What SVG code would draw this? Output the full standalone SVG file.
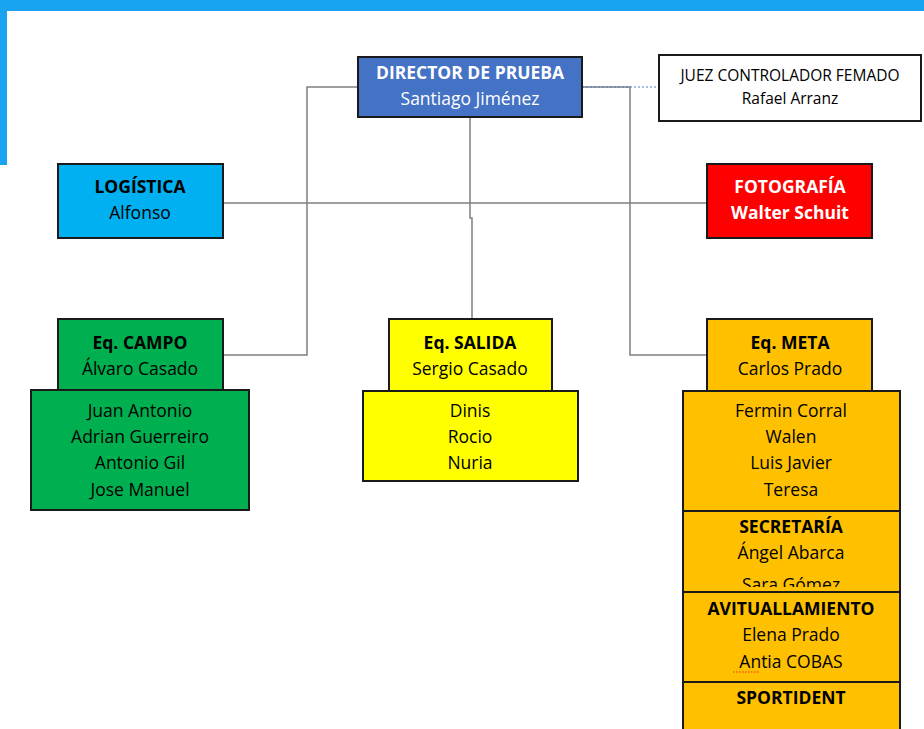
<svg xmlns="http://www.w3.org/2000/svg" width="924" height="729" viewBox="0 0 924 729">
<style>
.box{stroke:#1a1a1a;stroke-width:2}
.t{font-family:"Open Sans","Liberation Sans",sans-serif;font-size:17.5px;text-anchor:middle;fill:#000}
.b{font-weight:bold}
.w{fill:#fff}
.ln{fill:none;stroke:#7f7f7f;stroke-width:1.5}
</style>
<defs>
<clipPath id="clipSara"><rect x="683" y="560" width="217" height="27"/></clipPath>
</defs>
<rect x="0" y="0" width="924" height="729" fill="#fff"/>
<rect x="0" y="0" width="924" height="11" fill="#1aa3f0"/>
<rect x="0" y="0" width="7" height="165" fill="#1aa3f0"/>
<g id="connectors">
<path class="ln" d="M358 87 H307 V355 H223"/>
<path class="ln" d="M582 87 H630 V355 H707"/>
<path class="ln" d="M470 117 V218 H472 V319"/>
<path class="ln" d="M223 203 H707"/>
<path d="M582 87 H659" fill="none" stroke="#4a78c8" stroke-width="1.2" stroke-dasharray="2 2"/>
</g>
<g id="director">
<rect class="box" x="358" y="57" width="224" height="60" fill="#4472c4"/>
<text class="t b w" x="470" y="79">DIRECTOR DE PRUEBA</text>
<text class="t w" x="470" y="105">Santiago Jiménez</text>
</g>
<g id="juez">
<rect class="box" x="659" y="55" width="262" height="66" fill="#fff"/>
<text class="t" x="790" y="81" style="font-size:15.5px">JUEZ CONTROLADOR FEMADO</text>
<text class="t" x="790" y="104" style="font-size:15.5px">Rafael Arranz</text>
</g>
<g id="logistica">
<rect class="box" x="58" y="164" width="165" height="74" fill="#00b0f0"/>
<text class="t b" x="140" y="193">LOGÍSTICA</text>
<text class="t" x="140" y="219">Alfonso</text>
</g>
<g id="fotografia">
<rect class="box" x="707" y="164" width="165" height="74" fill="#ff0000"/>
<text class="t b w" x="790" y="193">FOTOGRAFÍA</text>
<text class="t b w" x="790" y="219">Walter Schuit</text>
</g>
<g id="campo">
<rect class="box" x="58" y="319" width="165" height="71" fill="#00b050"/>
<text class="t b" x="140" y="349">Eq. CAMPO</text>
<text class="t" x="140" y="375">Álvaro Casado</text>
<rect class="box" x="31" y="390" width="218" height="120" fill="#00b050"/>
<text class="t" x="140" y="417">Juan Antonio</text>
<text class="t" x="140" y="443">Adrian Guerreiro</text>
<text class="t" x="140" y="469">Antonio Gil</text>
<text class="t" x="140" y="496">Jose Manuel</text>
</g>
<g id="salida">
<rect class="box" x="389" y="319" width="163" height="72" fill="#ffff00"/>
<text class="t b" x="470" y="349">Eq. SALIDA</text>
<text class="t" x="470" y="375">Sergio Casado</text>
<rect class="box" x="363" y="391" width="215" height="90" fill="#ffff00"/>
<text class="t" x="470" y="417">Dinis</text>
<text class="t" x="470" y="443">Rocio</text>
<text class="t" x="470" y="469">Nuria</text>
</g>
<g id="meta">
<rect class="box" x="707" y="319" width="165" height="72" fill="#ffc000"/>
<text class="t b" x="790" y="349">Eq. META</text>
<text class="t" x="790" y="375">Carlos Prado</text>
<rect class="box" x="683" y="391" width="217" height="120" fill="#ffc000"/>
<text class="t" x="791" y="417">Fermin Corral</text>
<text class="t" x="791" y="443">Walen</text>
<text class="t" x="791" y="469">Luis Javier</text>
<text class="t" x="791" y="496">Teresa</text>
<rect class="box" x="683" y="511" width="217" height="81" fill="#ffc000"/>
<text class="t b" x="791" y="533">SECRETARÍA</text>
<text class="t" x="791" y="559">Ángel Abarca</text>
<text class="t" x="791" y="591" clip-path="url(#clipSara)">Sara Gómez</text>
<rect class="box" x="683" y="592" width="217" height="90" fill="#ffc000"/>
<text class="t b" x="791" y="615">AVITUALLAMIENTO</text>
<text class="t" x="791" y="641">Elena Prado</text>
<text class="t" x="791" y="668">Antia COBAS</text>
<path d="M733 672 H759" stroke="#ff2020" stroke-width="1.2" stroke-dasharray="1.5 1.5"/>
<rect class="box" x="683" y="682" width="217" height="60" fill="#ffc000"/>
<text class="t b" x="791" y="704">SPORTIDENT</text>
</g>
</svg>
